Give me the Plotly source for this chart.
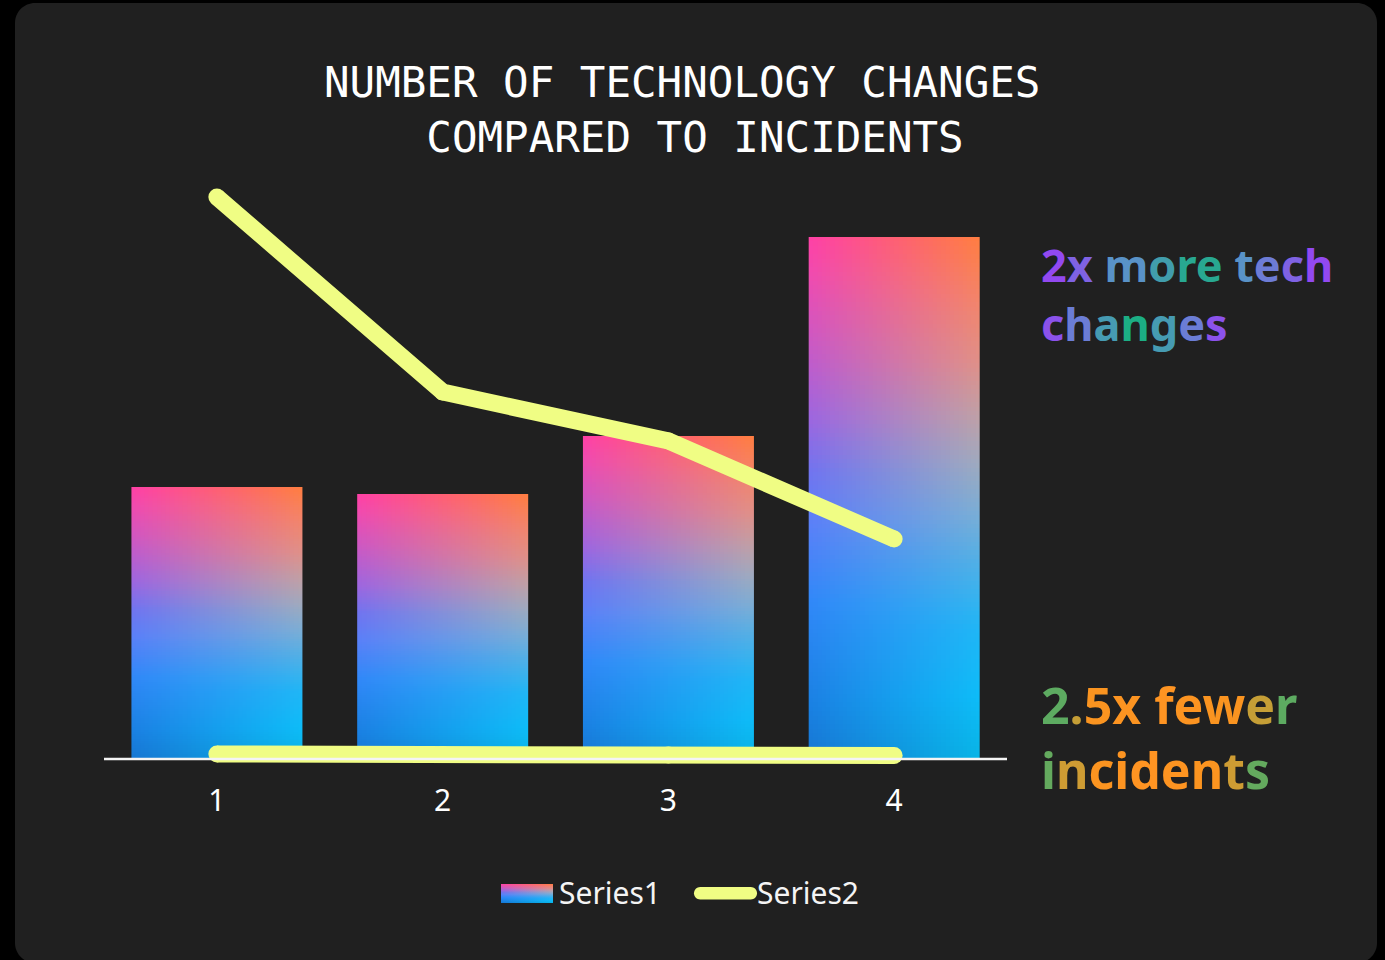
import base64
import numpy as np
import plotly.graph_objects as go

# ---------------- data ----------------
categories = [1, 2, 3, 4]
tick_labels = ["1", "2", "3", "4"]
series1 = [2.72, 2.65, 3.23, 5.22]          # technology changes (bars)
series2 = [5.62, 3.67, 3.18, 2.20]          # incidents (line)
series2_base = [0.05, 0.045, 0.04, 0.035]   # incidents, flat trace along the baseline

# ---------------- geometry ----------------
W, H = 1385, 960
L, R, T, B = 104, 378, 159, 195
plot_w = W - L - R
plot_h = H - T - B
Y_MIN, Y_MAX = -0.06, 6.0
BAR_W = 0.757
LINE_COLOR = "#f0fd84"
LINE_W = 17


def hex_rgb(h):
    h = h.lstrip("#")
    return np.array([int(h[i:i + 2], 16) for i in (0, 2, 4)], dtype=float)


def lerp_stops(stops, t):
    for (t0, c0), (t1, c1) in zip(stops[:-1], stops[1:]):
        if t <= t1:
            f = 0 if t1 == t0 else (t - t0) / (t1 - t0)
            return hex_rgb(c0) * (1 - f) + hex_rgb(c1) * f
    return hex_rgb(stops[-1][1])


def rgb_hex(c):
    return "#" + "".join(f"{int(round(v)):02x}" for v in c)


# bar gradient: colour stops on the left and right edge, bottom (0) to top (1)
LEFT_STOPS = [(0, "#1676d2"), (0.1, "#1a80e2"), (0.3, "#3088f8"), (0.45, "#5a80f8"),
              (0.55, "#7074f0"), (0.65, "#9c66e0"), (0.8, "#cc58c4"),
              (0.93, "#f04ab0"), (1, "#ff40a6")]
RIGHT_STOPS = [(0, "#08b4e6"), (0.12, "#0ebcf8"), (0.25, "#20b6f6"), (0.375, "#50b0e6"),
               (0.47, "#7aaed6"), (0.57, "#a0aabe"), (0.66, "#c0a0a6"),
               (0.76, "#e09088"), (0.885, "#f48468"), (1, "#ff7e40")]


def gradient_pixels(nrows, ncols):
    img = np.zeros((nrows, ncols, 3))
    for r in range(nrows):
        t = (r + 0.5) / nrows
        cl = lerp_stops(LEFT_STOPS, t)
        cr = lerp_stops(RIGHT_STOPS, t)
        for c in range(ncols):
            f = (c + 0.5) / ncols
            img[r, c] = cl * (1 - f) + cr * f
    return np.clip(np.round(img), 0, 255).astype(np.uint8)


NROWS, NCOLS = 120, 40
bar_pixels = gradient_pixels(NROWS, NCOLS)

fig = go.Figure()

# Series1 bars as gradient-filled image tiles placed on the data axes
for xc, v in zip(categories, series1):
    dx = BAR_W / NCOLS
    dy = v / NROWS
    fig.add_trace(go.Image(
        z=bar_pixels, colormodel="rgb",
        x0=xc - BAR_W / 2 + dx / 2, dx=dx,
        y0=dy / 2, dy=dy,
        zsmooth="fast", hoverinfo="skip", name="Series1",
    ))

# Series2 lines (markers at the vertices give rounded caps and joins)
for ys in (series2_base, series2):
    fig.add_trace(go.Scatter(
        x=categories, y=ys, mode="lines+markers", name="Series2",
        line=dict(color=LINE_COLOR, width=LINE_W),
        marker=dict(color=LINE_COLOR, size=LINE_W, line=dict(width=0)),
        showlegend=False, hoverinfo="skip",
    ))


# ---------------- helpers for pixel placed decorations ----------------
def px_x(px):
    return (px - L) / plot_w


def px_y(py):
    return (H - B - py) / plot_h


def rounded_rect(x0, y0, x1, y1, r):
    k = 0.5523 * r
    pts = [
        ("M", [(x0 + r, y0)]), ("L", [(x1 - r, y0)]),
        ("C", [(x1 - r + k, y0), (x1, y0 + r - k), (x1, y0 + r)]),
        ("L", [(x1, y1 - r)]),
        ("C", [(x1, y1 - r + k), (x1 - r + k, y1), (x1 - r, y1)]),
        ("L", [(x0 + r, y1)]),
        ("C", [(x0 + r - k, y1), (x0, y1 - r + k), (x0, y1 - r)]),
        ("L", [(x0, y0 + r)]),
        ("C", [(x0, y0 + r - k), (x0 + r - k, y0), (x0 + r, y0)]),
    ]
    s = ""
    for cmd, ps in pts:
        s += cmd + " ".join(f"{px_x(a):.5f},{px_y(b):.5f}" for a, b in ps)
    return s + "Z"


shapes = [
    # dark rounded panel
    dict(type="path", path=rounded_rect(15, 3, 1377, 963, 20), xref="paper", yref="paper",
         fillcolor="#202020", line=dict(width=0), layer="below"),
    # category axis baseline
    dict(type="line", xref="x", yref="y", x0=0.5, x1=4.5, y0=0, y1=0,
         line=dict(color="#f4f4f4", width=2.3), layer="above"),
    # legend swatch for Series2
    dict(type="path", path=rounded_rect(694, 887, 757, 899.5, 6.2), xref="paper", yref="paper",
         fillcolor=LINE_COLOR, line=dict(width=0), layer="above"),
]

# legend swatch for Series1 (same gradient as the bars)
def stops_svg(stops, gid):
    s = "".join(f"<stop offset='{1 - t:.3f}' stop-color='{c}'/>" for t, c in reversed(stops))
    return f"<linearGradient id='{gid}' x1='0' y1='0' x2='0' y2='1'>{s}</linearGradient>"


swatch_svg = (
    "<svg xmlns='http://www.w3.org/2000/svg' width='52' height='19' viewBox='0 0 52 19' "
    "preserveAspectRatio='none'><defs>"
    + stops_svg(LEFT_STOPS, "l") + stops_svg(RIGHT_STOPS, "r")
    + "<linearGradient id='h' x1='0' y1='0' x2='1' y2='0'>"
      "<stop offset='0' stop-color='#fff' stop-opacity='0'/>"
      "<stop offset='1' stop-color='#fff' stop-opacity='1'/></linearGradient>"
      "<mask id='m'><rect width='52' height='19' fill='url(#h)'/></mask></defs>"
      "<rect width='52' height='19' fill='url(#l)'/>"
      "<rect width='52' height='19' fill='url(#r)' mask='url(#m)'/></svg>"
)
swatch_src = "data:image/svg+xml;base64," + base64.b64encode(swatch_svg.encode()).decode()

images = [dict(source=swatch_src, xref="paper", yref="paper",
               x=px_x(501), y=px_y(884), sizex=52 / plot_w, sizey=19 / plot_h,
               xanchor="left", yanchor="top", sizing="stretch", layer="above")]


# ---------------- gradient call-out text ----------------
def grad_line(text, stops):
    n = len(text)
    out = []
    for i, ch in enumerate(text):
        if ch == " ":
            out.append(" ")
            continue
        d = abs((i + 0.5) / n - 0.5) * 2
        out.append(f'<span style="color:{rgb_hex(lerp_stops(stops, d))}">{ch}</span>')
    return "".join(out)


PURPLE_STOPS = [(0, "#1cae84"), (0.45, "#5e90cc"), (1, "#9b3cf6")]
ORANGE_STOPS = [(0, "#ff9422"), (0.5, "#fa9420"), (0.75, "#b8a03c"), (1, "#20b27a")]

callout_top = grad_line("2x more tech", PURPLE_STOPS) + "<br>" + grad_line("changes", PURPLE_STOPS)
callout_bottom = grad_line("2.5x fewer", ORANGE_STOPS) + "<br>" + grad_line("incidents", ORANGE_STOPS)

annotations = [
    dict(text=callout_top, xref="paper", yref="paper", x=px_x(1039), y=px_y(294),
         xanchor="left", yanchor="middle", align="left", showarrow=False,
         font=dict(family="Noto Sans", size=45, weight=700)),
    dict(text=callout_bottom, xref="paper", yref="paper", x=px_x(1039), y=px_y(737),
         xanchor="left", yanchor="middle", align="left", showarrow=False,
         font=dict(family="Noto Sans", size=50, weight=700)),
    dict(text="Series1", xref="paper", yref="paper", x=px_x(557), y=px_y(893),
         xanchor="left", yanchor="middle", showarrow=False,
         font=dict(family="Noto Sans", size=30, color="#f4f4f4")),
    dict(text="Series2", xref="paper", yref="paper", x=px_x(755), y=px_y(893),
         xanchor="left", yanchor="middle", showarrow=False,
         font=dict(family="Noto Sans", size=30, color="#f4f4f4")),
]

fig.update_layout(
    width=W, height=H,
    margin=dict(l=L, r=R, t=T, b=B, pad=0),
    paper_bgcolor="#000000",
    plot_bgcolor="rgba(0,0,0,0)",
    showlegend=False,
    title=dict(
        text="NUMBER OF TECHNOLOGY CHANGES\u00a0<br>COMPARED TO INCIDENTS",
        x=695 / W, xanchor="center", xref="container",
        y=1 - 97 / H, yanchor="middle", yref="container",
        font=dict(family="DejaVu Sans Mono", size=42.5, color="#ffffff"),
    ),
    xaxis=dict(
        range=[0.5, 4.5], autorange=False, tickmode="array",
        tickvals=categories, ticktext=tick_labels,
        showgrid=False, zeroline=False, showline=False, ticks="",
        ticklabelstandoff=15,
        tickfont=dict(family="Noto Sans", size=30, color="#ffffff"),
        scaleanchor=False, constrain="range",
    ),
    yaxis=dict(
        range=[Y_MIN, Y_MAX], autorange=False, visible=False,
        showgrid=False, zeroline=False, scaleanchor=False, constrain="range",
    ),
    shapes=shapes,
    images=images,
    annotations=annotations,
)

fig.write_html("out.html")
